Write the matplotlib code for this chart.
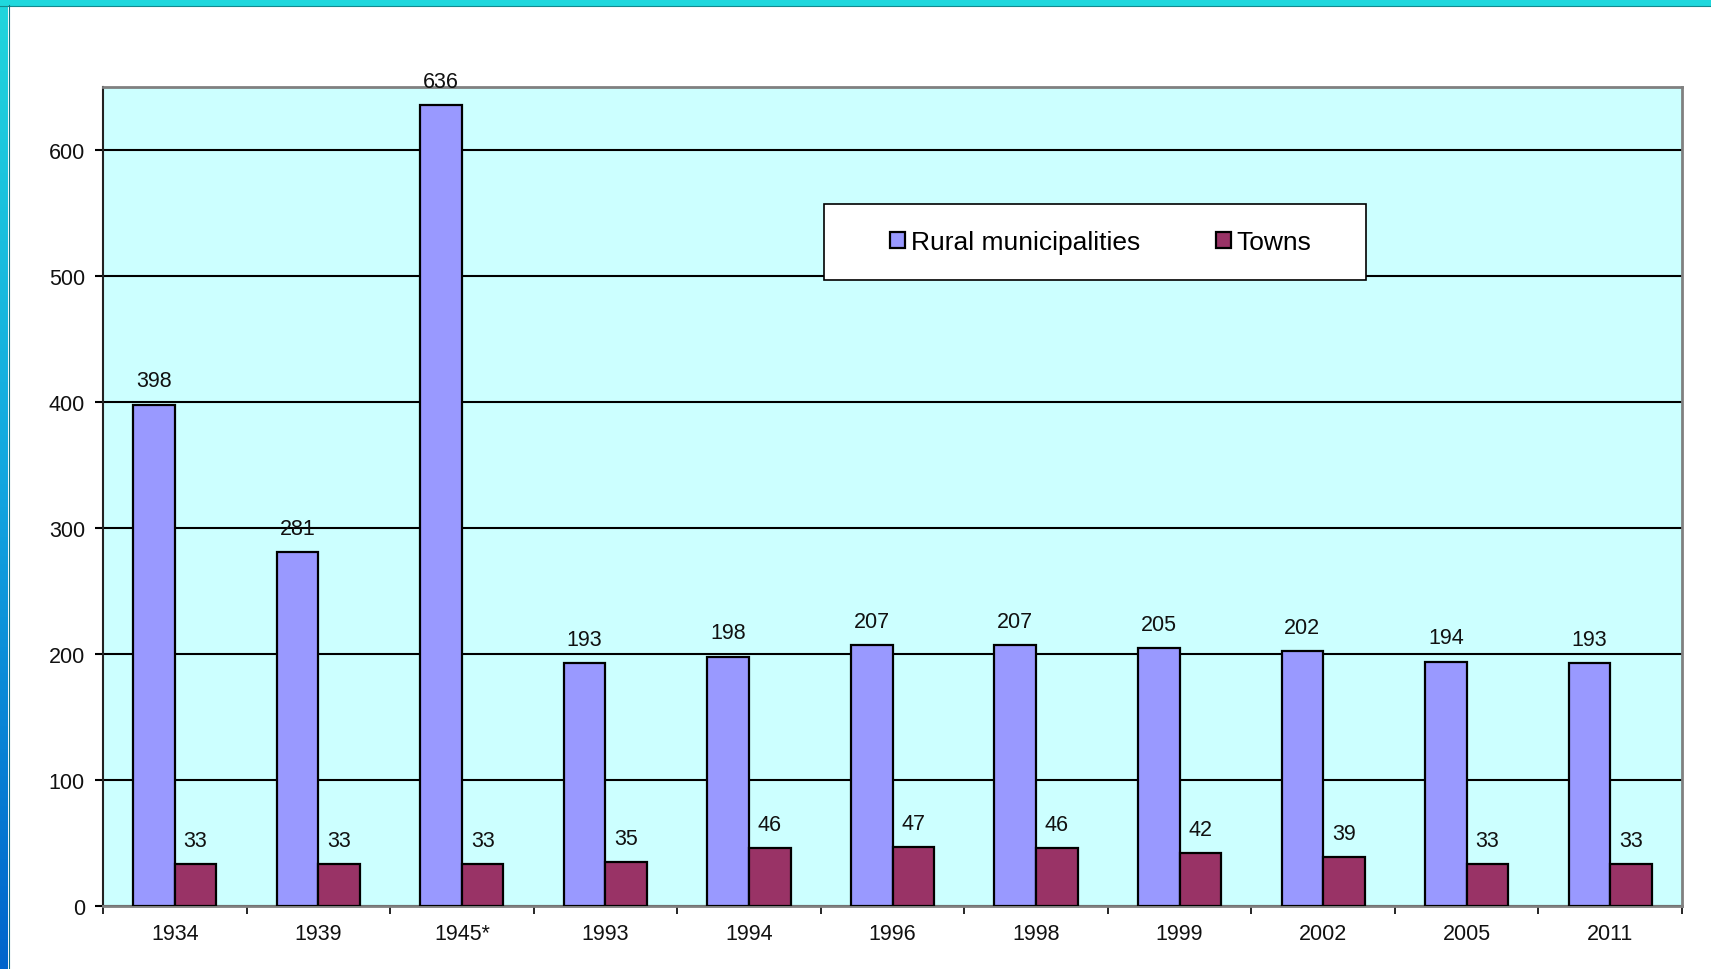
import matplotlib
matplotlib.use("Agg")
import matplotlib.pyplot as plt
import numpy as np
from matplotlib.patches import Patch, Rectangle
from matplotlib.colors import LinearSegmentedColormap

plt.rcParams["font.family"] = ["Liberation Sans", "DejaVu Sans"]

years = ["1934", "1939", "1945*", "1993", "1994", "1996", "1998", "1999", "2002", "2005", "2011"]
rural = [398, 281, 636, 193, 198, 207, 207, 205, 202, 194, 193]
towns = [33, 33, 33, 35, 46, 47, 46, 42, 39, 33, 33]

W, H = 1711, 970
fig = plt.figure(figsize=(W / 100, H / 100), dpi=100)
fig.patch.set_facecolor("white")

# frame: cyan band on top, cyan->blue gradient on the left
fig.add_artist(Rectangle((0, 1 - 7 / H), 1, 7 / H, transform=fig.transFigure,
                         facecolor="#1fd8dd", edgecolor="none", zorder=1))
fig.add_artist(plt.Line2D([0, 1], [1 - 6.5 / H, 1 - 6.5 / H], transform=fig.transFigure,
                          color="#138a8e", lw=0.8, zorder=1))
ax_bg = fig.add_axes([0, 0, 8 / W, 1])
cmap = LinearSegmentedColormap.from_list("frame", ["#20d6dc", "#12a6e0", "#0064cc"])
ax_bg.imshow(np.linspace(0, 1, 256).reshape(-1, 1), aspect="auto", cmap=cmap)
ax_bg.set_axis_off()
fig.add_artist(plt.Line2D([8.5 / W, 8.5 / W], [0, 1 - 6 / H], transform=fig.transFigure,
                          color="#126f80", lw=0.8, zorder=1))

ax = fig.add_axes([103 / W, 1 - 907 / H, (1682 - 103) / W, (907 - 88) / H])
ax.set_facecolor("#ccffff")

x = np.arange(len(years))
bw = 0.29
b1 = ax.bar(x - bw / 2, rural, bw, color="#9999ff", edgecolor="black", linewidth=1.6, zorder=3)
b2 = ax.bar(x + bw / 2, towns, bw, color="#993366", edgecolor="black", linewidth=1.6, zorder=3)

for bars, vals in ((b1, rural), (b2, towns)):
    for r, v in zip(bars, vals):
        ax.annotate(str(v), (r.get_x() + r.get_width() / 2, v), xytext=(0, 17),
                    textcoords="offset points", ha="center", va="center",
                    fontsize=15.5, color="#111111")

ax.set_xlim(-0.5, len(years) - 0.5)
ax.set_ylim(0, 650)
ax.set_yticks(range(0, 601, 100))
ax.yaxis.grid(True, color="black", linewidth=1.5, zorder=1)
ax.set_axisbelow(True)

ax.set_xticks(np.arange(-0.5, len(years), 1))
ax.set_xticklabels([])
ax.set_xticks(x, minor=True)
ax.set_xticklabels(years, minor=True)
ax.tick_params(axis="x", which="major", length=6, width=1.2, color="black")
ax.tick_params(axis="x", which="minor", length=0, pad=12, labelsize=15.5, labelcolor="#111111")
ax.tick_params(axis="y", length=6, width=1.5, pad=7, labelsize=15.5, labelcolor="#111111")

for side in ("top", "right", "bottom"):
    ax.spines[side].set_color("#808080")
    ax.spines[side].set_linewidth(2)
ax.spines["left"].set_color("#222222")
ax.spines["left"].set_linewidth(1.5)

# legend box
fig.add_artist(Rectangle((824 / W, 1 - 281 / H), (1366 - 824) / W, (281 - 205) / H,
                         transform=fig.transFigure, facecolor="white",
                         edgecolor="black", lw=1.2, zorder=4))
handles = [Patch(facecolor="#9999ff", edgecolor="black", linewidth=1.6, label="Rural municipalities"),
           Patch(facecolor="#993366", edgecolor="black", linewidth=1.6, label="Towns")]
leg = fig.legend(handles=handles, loc="center", bbox_to_anchor=(1101 / W, 1 - 243 / H),
                 ncol=2, frameon=False, fontsize=19, handlelength=0.57, handleheight=0.57,
                 handletextpad=0.2, columnspacing=2.9)
leg.set_zorder(6)

fig.savefig("out.png", dpi=100)
